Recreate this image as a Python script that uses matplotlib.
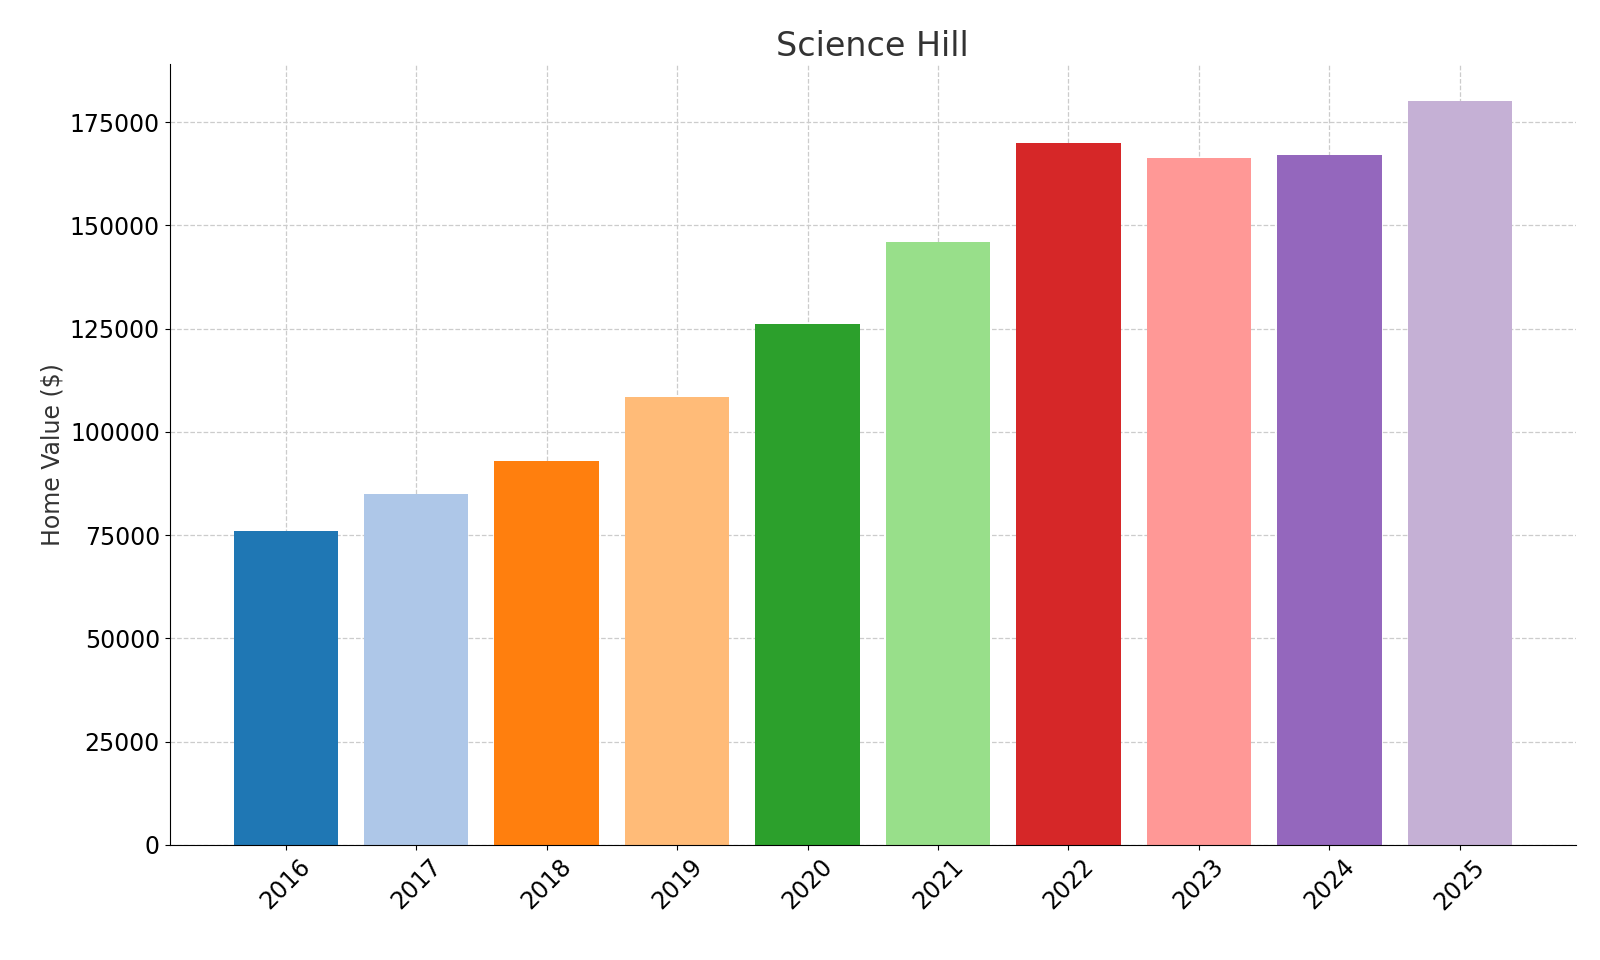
import matplotlib.pyplot as plt

years = ["2016", "2017", "2018", "2019", "2020", "2021", "2022", "2023", "2024", "2025"]
values = [76000, 85000, 93000, 108400, 126100, 145900, 169900, 166300, 167000, 180100]
colors = ["#1f77b4", "#aec7e8", "#ff7f0e", "#ffbb78", "#2ca02c",
          "#98df8a", "#d62728", "#ff9896", "#9467bd", "#c5b0d5"]

fig, ax = plt.subplots(figsize=(16, 9.6), dpi=100)
ax.bar(years, values, color=colors, width=0.8, zorder=2)
ax.set_title("Science Hill", fontsize=24, color="#333333")
ax.set_ylabel("Home Value ($)", fontsize=17, color="#333333")
ax.tick_params(axis="both", labelsize=17)
plt.setp(ax.get_xticklabels(), rotation=45)
ax.grid(True, linestyle="--", color="#cccccc", linewidth=0.9, zorder=0)
ax.spines["top"].set_visible(False)
ax.spines["right"].set_visible(False)
ax.set_ylim(0, 189000)
fig.subplots_adjust(left=0.106, right=0.985, top=0.933, bottom=0.12)
fig.savefig("out.png")
